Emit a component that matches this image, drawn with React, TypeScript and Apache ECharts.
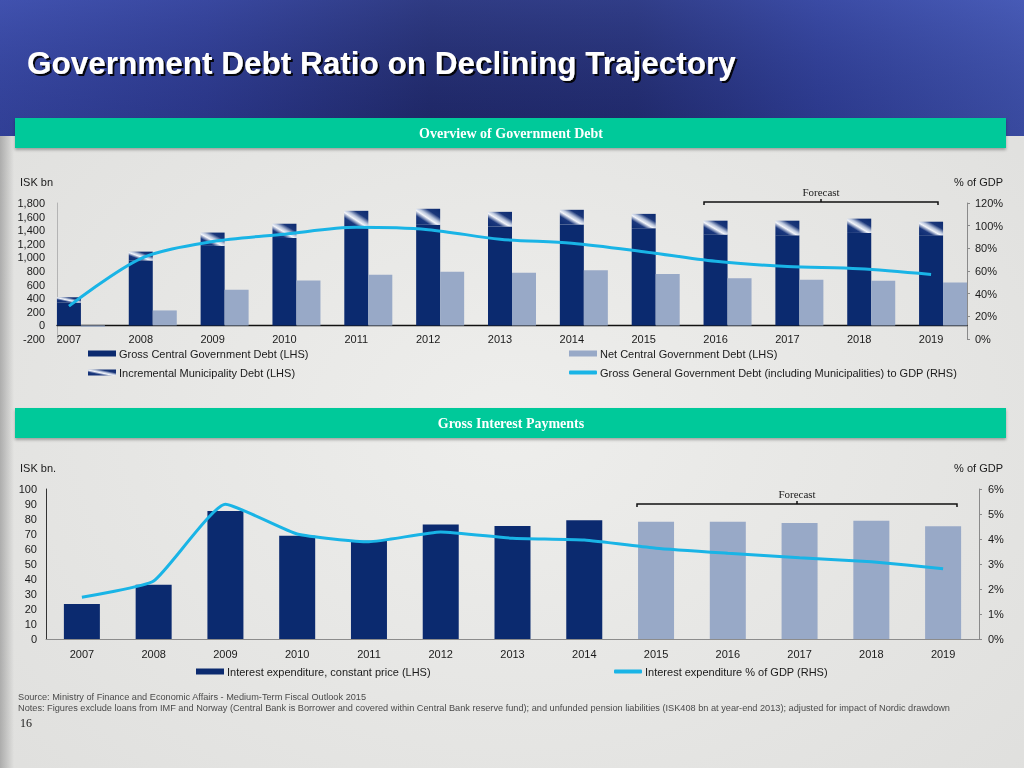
import React, { useEffect, useRef } from "react";
import * as echarts from "echarts";

// ---------- data ----------
const years = ["2007", "2008", "2009", "2010", "2011", "2012", "2013", "2014", "2015", "2016", "2017", "2018", "2019"];
const grossCentralDebt = [335, 955, 1170, 1285, 1455, 1480, 1455, 1485, 1430, 1335, 1325, 1360, 1325];
const municipalityDebt = [80, 130, 195, 210, 230, 235, 215, 215, 210, 205, 215, 210, 200];
const netCentralDebt = [-20, 220, 525, 660, 745, 790, 775, 810, 755, 695, 670, 655, 630];
const grossDebtToGdp = [29, 71, 86, 92.5, 98.5, 96.5, 88, 84.5, 77, 68.5, 64, 62, 57];
const interestExpenditure = [23.3, 36.2, 85.3, 68.8, 65.5, 76.4, 75.3, 79.1, 78.1, 78.2, 77.3, 78.9, 75.1];
const interestToGdp = [1.67, 2.32, 5.39, 4.2, 3.89, 4.28, 4.03, 3.96, 3.63, 3.43, 3.25, 3.09, 2.81];
const firstForecastYear = "2015";

const seriesNames = {
  gross: "Gross Central Government Debt (LHS)",
  net: "Net Central Government Debt (LHS)",
  muni: "Incremental Municipality Debt (LHS)",
  ratio: "Gross General Government Debt (including Municipalities) to GDP (RHS)",
  interest: "Interest expenditure, constant price (LHS)",
  interestRatio: "Interest expenditure % of GDP (RHS)",
};

// ---------- styles ----------
const NAVY = "#0b2a6f";
const LIGHT = "#98a9c7";
const CYAN = "#19b4e6";
const SANS = "'Liberation Sans', Arial, Helvetica, sans-serif";
const SERIF = "'Liberation Serif', 'Times New Roman', serif";
const TXT = "#1a1a1a";

const muniFill = new echarts.graphic.LinearGradient(0, 1, 1, 0, [
  { offset: 0, color: NAVY },
  { offset: 0.28, color: "#1a377d" },
  { offset: 0.45, color: "#f4f6fb" },
  { offset: 0.56, color: "#b8c4dc" },
  { offset: 0.72, color: "#1a3679" },
  { offset: 1, color: NAVY },
]);

const forecastIdx = years.indexOf(firstForecastYear);

function buildOption() {
  const axisText = { color: TXT, fontSize: 11, fontFamily: SANS };
  const legendCommon = {
    orient: "horizontal",
    padding: 0,
    itemWidth: 28,
    itemHeight: 6,
    selectedMode: false,
    textStyle: { fontSize: 11, color: TXT, fontFamily: SANS, padding: [0, 0, 0, -2] },
  };
  const bracket = (x1: number, x2: number, y: number) => [
    {
      type: "polyline",
      shape: { points: [[x1, y + 3], [x1, y], [x2, y], [x2, y + 3]] },
      style: { stroke: "#111", lineWidth: 1.5, fill: null },
    },
    {
      type: "line",
      shape: { x1: (x1 + x2) / 2, y1: y, x2: (x1 + x2) / 2, y2: y - 3 },
      style: { stroke: "#111", lineWidth: 1.5 },
    },
  ];

  return {
    animation: false,
    graphic: [
      // page background
      {
        type: "rect", z: -20, shape: { x: 0, y: 0, width: 1024, height: 768 },
        style: {
          fill: new echarts.graphic.RadialGradient(0.5, 0.55, 0.75, [
            { offset: 0, color: "#eeeeec" },
            { offset: 1, color: "#dededc" },
          ]),
        },
      },
      {
        type: "rect", z: -19, shape: { x: 0, y: 0, width: 14, height: 768 },
        style: {
          fill: new echarts.graphic.LinearGradient(0, 0, 1, 0, [
            { offset: 0, color: "rgba(150,150,150,0.7)" },
            { offset: 1, color: "rgba(150,150,150,0)" },
          ]),
        },
      },
      // header band
      {
        type: "rect", z: -18, shape: { x: 0, y: 0, width: 1024, height: 136 },
        style: {
          fill: new echarts.graphic.LinearGradient(0, 0, 1, 0, [
            { offset: 0, color: "#3848a6" },
            { offset: 0.2, color: "#2e3b92" },
            { offset: 0.42, color: "#212a6c" },
            { offset: 0.62, color: "#232d72" },
            { offset: 0.8, color: "#303f98" },
            { offset: 1, color: "#4154b0" },
          ]),
        },
      },
      {
        type: "rect", z: -17, shape: { x: 0, y: 0, width: 1024, height: 136 },
        style: {
          fill: new echarts.graphic.LinearGradient(0, 0, 0, 1, [
            { offset: 0, color: "rgba(90,110,200,0.25)" },
            { offset: 1, color: "rgba(10,15,60,0.15)" },
          ]),
        },
      },
      {
        type: "text", z: 5, x: 27, y: 63,
        style: {
          text: "Government Debt Ratio on Declining Trajectory",
          fill: "#ffffff", fontSize: 31.5, fontWeight: "bold", fontFamily: SANS,
          verticalAlign: "middle", align: "left",
          textShadowColor: "rgba(0,0,0,0.9)", textShadowOffsetX: 2, textShadowOffsetY: 2, textShadowBlur: 1,
        },
      },
      // teal section bands
      {
        type: "rect", z: -5, shape: { x: 15, y: 118, width: 991, height: 30 },
        style: { fill: "#02c99a", shadowColor: "rgba(0,0,0,0.3)", shadowBlur: 3, shadowOffsetY: 2 },
      },
      {
        type: "text", z: 5, x: 511, y: 133,
        style: { text: "Overview of Government Debt", fill: "#fff", fontSize: 14, fontWeight: "bold", fontFamily: SERIF, align: "center", verticalAlign: "middle" },
      },
      {
        type: "rect", z: -5, shape: { x: 15, y: 408, width: 991, height: 30 },
        style: { fill: "#02c99a", shadowColor: "rgba(0,0,0,0.3)", shadowBlur: 3, shadowOffsetY: 2 },
      },
      {
        type: "text", z: 5, x: 511, y: 423,
        style: { text: "Gross Interest Payments", fill: "#fff", fontSize: 14, fontWeight: "bold", fontFamily: SERIF, align: "center", verticalAlign: "middle" },
      },
      // unit labels
      { type: "text", x: 20, y: 182, style: { text: "ISK bn", fill: TXT, fontSize: 11, fontFamily: SANS, verticalAlign: "middle" } },
      { type: "text", x: 1003, y: 182, style: { text: "% of GDP", fill: TXT, fontSize: 11, fontFamily: SANS, align: "right", verticalAlign: "middle" } },
      { type: "text", x: 20, y: 468, style: { text: "ISK bn.", fill: TXT, fontSize: 11, fontFamily: SANS, verticalAlign: "middle" } },
      { type: "text", x: 1003, y: 468, style: { text: "% of GDP", fill: TXT, fontSize: 11, fontFamily: SANS, align: "right", verticalAlign: "middle" } },
      // forecast annotations
      { type: "text", x: 821, y: 192, style: { text: "Forecast", fill: TXT, fontSize: 11, fontFamily: SERIF, align: "center", verticalAlign: "middle" } },
      ...bracket(704, 938, 202),
      { type: "text", x: 797, y: 494, style: { text: "Forecast", fill: TXT, fontSize: 11, fontFamily: SERIF, align: "center", verticalAlign: "middle" } },
      ...bracket(637, 957, 504),
      // footer
      {
        type: "text", x: 18, y: 697,
        style: { text: "Source: Ministry of Finance and Economic Affairs - Medium-Term Fiscal Outlook 2015", fill: "#4a4a4a", fontSize: 9.2, fontFamily: SANS, verticalAlign: "middle" },
      },
      {
        type: "text", x: 18, y: 708,
        style: {
          text: "Notes: Figures exclude loans from IMF and Norway (Central Bank is Borrower and covered within Central Bank reserve fund); and unfunded pension liabilities (ISK408 bn at year-end 2013); adjusted for impact of Nordic drawdown",
          fill: "#4a4a4a", fontSize: 9.2, fontFamily: SANS, verticalAlign: "middle",
        },
      },
      { type: "text", x: 20, y: 723, style: { text: "16", fill: TXT, fontSize: 12, fontFamily: SERIF, verticalAlign: "middle" } },
    ],
    grid: [
      { left: 33, right: 57, top: 203, height: 136 },
      { left: 57, right: 57, top: 203, height: 136 },
      { left: 46, right: 45, top: 489, height: 150 },
    ],
    xAxis: [
      {
        gridIndex: 0, type: "category", data: years,
        axisLine: { show: false, onZero: false }, axisTick: { show: false },
        axisLabel: { ...axisText, margin: 0, verticalAlign: "middle" },
      },
      {
        gridIndex: 1, type: "value", min: 0, max: 1,
        axisLine: { show: true, onZero: true, lineStyle: { color: "#111", width: 1.3 } },
        axisTick: { show: false }, axisLabel: { show: false }, splitLine: { show: false },
      },
      {
        gridIndex: 2, type: "category", data: years,
        axisLine: { show: true, onZero: false, lineStyle: { color: "#8c8c8c" } }, axisTick: { show: false },
        axisLabel: { ...axisText, margin: 9 },
      },
    ],
    yAxis: [
      { gridIndex: 0, type: "value", min: -200, max: 1800, interval: 200, show: false, splitLine: { show: false } },
      {
        gridIndex: 0, type: "value", position: "right", min: 0, max: 120, interval: 20,
        axisLine: { show: true, onZero: false, lineStyle: { color: "#8a8a8a" } },
        axisTick: { show: true, length: 3, lineStyle: { color: "#8a8a8a" } },
        axisLabel: { ...axisText, margin: 8, formatter: "{value}%" },
        splitLine: { show: false },
      },
      {
        gridIndex: 1, type: "value", min: -200, max: 1800, interval: 200,
        axisLine: { show: true, onZero: false, lineStyle: { color: "#b4b4b4" } },
        axisTick: { show: false },
        axisLabel: { ...axisText, margin: 12, formatter: (v: number) => v.toLocaleString("en-US") },
        splitLine: { show: false },
      },
      {
        gridIndex: 2, type: "value", min: 0, max: 100, interval: 10,
        axisLine: { show: true, onZero: false, lineStyle: { color: "#333" } },
        axisTick: { show: false },
        axisLabel: { ...axisText, margin: 9 },
        splitLine: { show: false },
      },
      {
        gridIndex: 2, type: "value", position: "right", min: 0, max: 6, interval: 1,
        axisLine: { show: true, onZero: false, lineStyle: { color: "#8a8a8a" } },
        axisTick: { show: true, length: 3, lineStyle: { color: "#8a8a8a" } },
        axisLabel: { ...axisText, margin: 9, formatter: "{value}%" },
        splitLine: { show: false },
      },
    ],
    legend: [
      { ...legendCommon, left: 88, top: 348, data: [{ name: seriesNames.gross, icon: "rect" }] },
      { ...legendCommon, left: 569, top: 348, data: [{ name: seriesNames.net, icon: "rect" }] },
      { ...legendCommon, left: 88, top: 367, data: [{ name: seriesNames.muni, icon: "rect" }] },
      { ...legendCommon, left: 569, top: 367, itemHeight: 4, data: [{ name: seriesNames.ratio, icon: "roundRect" }] },
      { ...legendCommon, left: 196, top: 666, data: [{ name: seriesNames.interest, icon: "rect", itemStyle: { color: NAVY } }] },
      { ...legendCommon, left: 614, top: 666, itemHeight: 4, data: [{ name: seriesNames.interestRatio, icon: "roundRect" }] },
    ],
    series: [
      {
        name: "_slot", type: "bar", xAxisIndex: 0, yAxisIndex: 0, silent: true,
        data: years.map(() => null), barWidth: 24, barGap: "0%",
      },
      {
        name: seriesNames.gross, type: "bar", xAxisIndex: 0, yAxisIndex: 0, stack: "central",
        data: grossCentralDebt, barWidth: 24, barGap: "0%", itemStyle: { color: NAVY },
      },
      {
        name: seriesNames.muni, type: "bar", xAxisIndex: 0, yAxisIndex: 0, stack: "central",
        data: municipalityDebt, barWidth: 24, barGap: "0%", itemStyle: { color: muniFill },
      },
      {
        name: seriesNames.net, type: "bar", xAxisIndex: 0, yAxisIndex: 0,
        data: netCentralDebt, barWidth: 24, barGap: "0%", itemStyle: { color: LIGHT },
      },
      {
        name: seriesNames.ratio, type: "line", xAxisIndex: 0, yAxisIndex: 1, z: 5,
        data: grossDebtToGdp, symbol: "none", smooth: 0.3,
        lineStyle: { color: CYAN, width: 3 }, itemStyle: { color: CYAN },
      },
      {
        name: seriesNames.interest, type: "bar", xAxisIndex: 2, yAxisIndex: 3,
        data: interestExpenditure, barWidth: 36,
        itemStyle: { color: (p: any) => (p.dataIndex >= forecastIdx ? LIGHT : NAVY) },
      },
      {
        name: seriesNames.interestRatio, type: "line", xAxisIndex: 2, yAxisIndex: 4, z: 5,
        data: interestToGdp, symbol: "none", smooth: 0.15,
        lineStyle: { color: CYAN, width: 3 }, itemStyle: { color: CYAN },
      },
    ],
  };
}

export default function App() {
  const ref = useRef<HTMLDivElement>(null);
  useEffect(() => {
    if (!ref.current) return;
    const chart = echarts.init(ref.current, undefined, { renderer: "svg", width: 1024, height: 768 });
    chart.setOption(buildOption() as any);
    return () => chart.dispose();
  }, []);
  return <div ref={ref} style={{ position: "fixed", left: 0, top: 0, width: 1024, height: 768 }} />;
}
